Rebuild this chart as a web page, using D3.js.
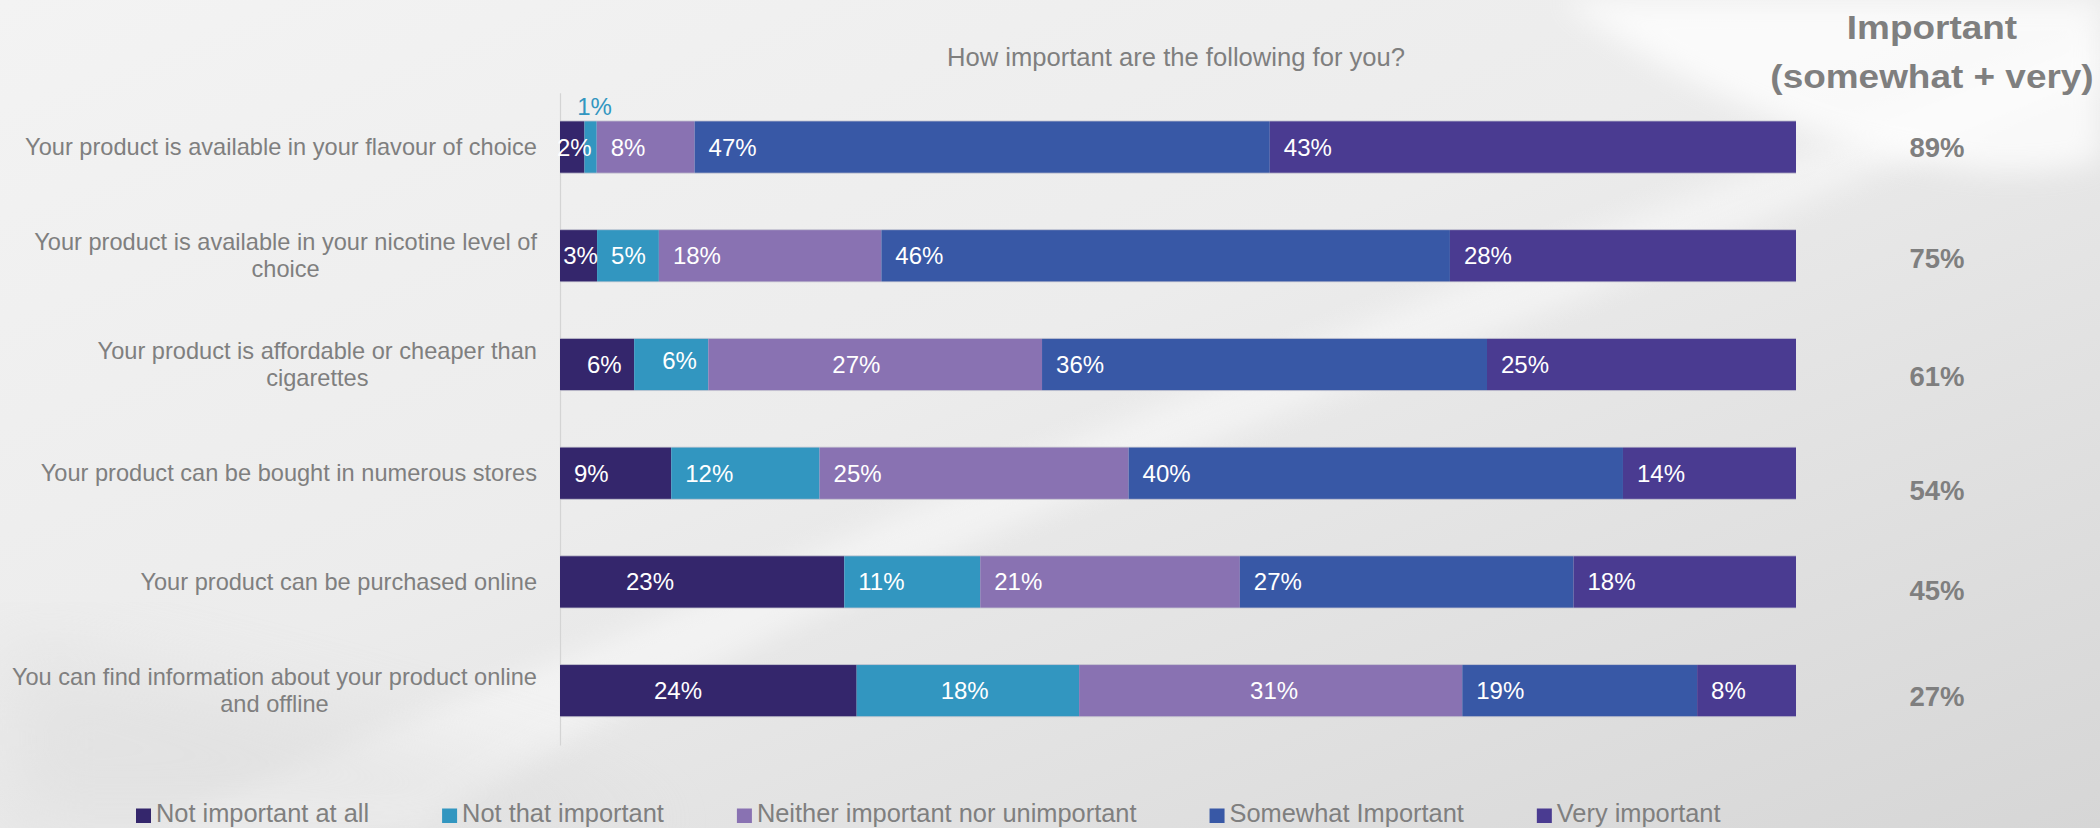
<!DOCTYPE html>
<html>
<head>
<meta charset="utf-8">
<script src="https://cdn.jsdelivr.net/npm/d3@7"></script>
<style>
  html, body { margin: 0; padding: 0; background: #ececec; overflow: hidden; }
  text { font-family: "Liberation Sans", Arial, Helvetica, sans-serif; }
</style>
</head>
<body>
<svg id="chart" width="2100" height="828"></svg>
<script>
// ---- data ----
const categories = [
  "Your product is available in your flavour of choice",
  "Your product is available in your nicotine level of choice",
  "Your product is affordable or cheaper than cigarettes",
  "Your product can be bought in numerous stores",
  "Your product can be purchased online",
  "You can find information about your product online and offline"
];
const seriesNames = [
  "Not important at all",
  "Not that important",
  "Neither important nor unimportant",
  "Somewhat Important",
  "Very important"
];
const notImportantAtAll = [2, 3, 6, 9, 23, 24];
const notThatImportant  = [1, 5, 6, 12, 11, 18];
const neitherImportant  = [8, 18, 27, 25, 21, 31];
const somewhatImportant = [47, 46, 36, 40, 27, 19];
const veryImportant     = [43, 28, 25, 14, 18, 8];
const importantTotal    = [89, 75, 61, 54, 45, 27];
const chartTitle = "How important are the following for you?";
const summaryTitle = ["Important", "(somewhat + very)"];

// ---- styling / layout ----
const seriesColors = ["#34266c", "#3296c0", "#8972b2", "#3858a6", "#4a3b91"];
const textGrey = "#7f7f7f";
const W = 2100, H = 828;
const plotLeft = 560, plotRight = 1796;

const seriesValues = [notImportantAtAll, notThatImportant, neitherImportant, somewhatImportant, veryImportant];
const rows = categories.map((c, i) => {
  const o = { category: c };
  seriesNames.forEach((s, k) => { o[s] = seriesValues[k][i]; });
  return o;
});

const svg = d3.select("#chart");
const defs = svg.append("defs");

// background: soft grey slide with light swooshes
const bg = defs.append("linearGradient").attr("id", "bg")
  .attr("x1", 0).attr("y1", 0).attr("x2", 1).attr("y2", 1);
bg.append("stop").attr("offset", "0%").attr("stop-color", "#f3f3f3");
bg.append("stop").attr("offset", "45%").attr("stop-color", "#ececec");
bg.append("stop").attr("offset", "100%").attr("stop-color", "#d6d6d6");
defs.append("filter").attr("id", "soft").attr("x", "-20%").attr("y", "-20%").attr("width", "140%").attr("height", "140%")
  .append("feGaussianBlur").attr("stdDeviation", 14);
defs.append("filter").attr("id", "softer").attr("x", "-20%").attr("y", "-20%").attr("width", "140%").attr("height", "140%")
  .append("feGaussianBlur").attr("stdDeviation", 40);

svg.append("rect").attr("width", W).attr("height", H).attr("fill", "url(#bg)");
const deco = svg.append("g");
// light sweep rising from the lower left towards the upper right
deco.append("path")
  .attr("d", "M 420 828 C 700 650 1100 480 1509 327 C 1700 250 1900 160 2100 80 L 2100 40 C 1800 150 1400 300 884 520 C 600 650 300 760 150 828 Z")
  .attr("fill", "#ffffff").attr("opacity", 0.45).attr("filter", "url(#soft)");
// bright arc in the top right corner
deco.append("path")
  .attr("d", "M 1560 0 C 1660 70 1800 150 1980 170 C 2060 175 2100 160 2100 160 L 2100 0 Z")
  .attr("fill", "#ffffff").attr("opacity", 0.75).attr("filter", "url(#soft)");
deco.append("path")
  .attr("d", "M 0 640 C 300 700 500 760 700 828 L 0 828 Z")
  .attr("fill", "#d9d9d9").attr("opacity", 0.45).attr("filter", "url(#softer)");

// ---- scales ----
const y = d3.scaleBand().domain(categories).range([92.7, 745]).paddingInner(0.52).paddingOuter(0.26);
const x = d3.scaleLinear().domain([0, 1]).range([plotLeft, plotRight]);
const color = d3.scaleOrdinal().domain(seriesNames).range(seriesColors);

const stacked = d3.stack().keys(seriesNames).offset(d3.stackOffsetExpand)(rows);

// vertical category axis line
svg.append("g")
  .attr("transform", `translate(${plotLeft},0)`)
  .call(d3.axisLeft(y).tickSize(0).tickSizeOuter(0).tickFormat(""))
  .call(g => g.select(".domain").attr("stroke", "#d4d4d4").attr("stroke-width", 1.2));

// bars
const layers = svg.append("g").selectAll("g").data(stacked).join("g")
  .attr("fill", d => color(d.key));
layers.selectAll("rect").data(d => d).join("rect")
  .attr("x", d => x(d[0]))
  .attr("width", d => x(d[1]) - x(d[0]))
  .attr("y", d => y(d.data.category))
  .attr("height", y.bandwidth());

// thin light edges along top and bottom of each bar
svg.append("g").selectAll("line").data(categories.flatMap(c => [y(c), y(c) + y.bandwidth()])).join("line")
  .attr("x1", x(0)).attr("x2", x(1))
  .attr("y1", d => d).attr("y2", d => d)
  .attr("stroke", "#c9c9d3").attr("stroke-width", 1).attr("opacity", 0.8);

// value labels inside segments
const labelDx = { "2-0": 27, "2-1": 28, "2-2": 124, "4-0": 66, "5-0": 94, "5-1": 84, "5-2": 171 };
const labelDy = { "2-1": -4 };
const labelCentred = new Set(["0-0", "1-0"]);
const labelAbove = new Set(["0-1"]);
const labelData = [];
stacked.forEach((layer, k) => {
  layer.forEach((d, i) => {
    labelData.push({ key: `${i}-${k}`, k, i, d, value: seriesValues[k][i], cat: categories[i] });
  });
});
svg.append("g").selectAll("text").data(labelData).join("text")
  .attr("font-size", 24)
  .attr("fill", l => labelAbove.has(l.key) ? seriesColors[l.k] : "#ffffff")
  .attr("text-anchor", l => (labelCentred.has(l.key) || labelAbove.has(l.key)) ? "middle" : "start")
  .attr("x", l => {
    const x0 = x(l.d[0]), x1 = x(l.d[1]);
    if (labelCentred.has(l.key) || labelAbove.has(l.key)) return (x0 + x1) / 2 + (labelAbove.has(l.key) ? 4 : 2);
    return x0 + (labelDx[l.key] !== undefined ? labelDx[l.key] : 14);
  })
  .attr("y", l => {
    if (labelAbove.has(l.key)) return y(l.cat) - 5.5;
    return y(l.cat) + y.bandwidth() / 2 + 8.5 + (labelDy[l.key] || 0);
  })
  .text(l => l.value + "%");

// category labels (wrapped, block right-aligned, lines centred)
const catFont = 23.6, catRight = 537, wrapWidth = 532, lineH = 27;
const measurer = svg.append("text").attr("font-size", catFont).attr("visibility", "hidden");
const measure = s => { measurer.text(s); return measurer.node().getComputedTextLength(); };
categories.forEach(c => {
  const words = c.split(" ");
  const lines = [];
  let cur = "";
  words.forEach(w => {
    const t = cur ? cur + " " + w : w;
    if (cur && measure(t) > wrapWidth) { lines.push(cur); cur = w; } else cur = t;
  });
  lines.push(cur);
  const maxW = d3.max(lines, measure);
  const cx = catRight - maxW / 2;
  const cy = y(c) + y.bandwidth() / 2;
  const t = svg.append("text").attr("font-size", catFont).attr("fill", textGrey).attr("text-anchor", "middle");
  lines.forEach((ln, j) => {
    t.append("tspan").attr("x", cx)
      .attr("y", cy + 8 + (j - (lines.length - 1) / 2) * lineH)
      .text(ln);
  });
});
measurer.remove();

// title
svg.append("text")
  .attr("x", (plotLeft + plotRight) / 2 - 2).attr("y", 66)
  .attr("text-anchor", "middle").attr("font-size", 25.6).attr("fill", textGrey)
  .text(chartTitle);

// summary column
const sumX = 1937;
const head = svg.append("g");
summaryTitle.forEach((s, j) => {
  head.append("g").attr("transform", `translate(${sumX - 5},${39 + j * 49}) scale(1.12,1)`)
    .append("text").attr("text-anchor", "middle").attr("font-size", 33).attr("font-weight", "bold")
    .attr("fill", textGrey).text(s);
});
const sumNudge = [0, 2, 12, 17, 8, 5];
svg.append("g").selectAll("text").data(importantTotal).join("text")
  .attr("x", sumX).attr("y", (d, i) => y(categories[i]) + y.bandwidth() / 2 + 10 + sumNudge[i])
  .attr("text-anchor", "middle").attr("font-size", 27.5).attr("font-weight", "bold")
  .attr("fill", textGrey).text(d => d + "%");

// legend
const legend = svg.append("g");
let lx = 136;
seriesNames.forEach((s, k) => {
  legend.append("rect").attr("x", lx).attr("y", 808.5).attr("width", 15).attr("height", 14.5).attr("fill", seriesColors[k]);
  const t = legend.append("text").attr("x", lx + 20).attr("y", 822).attr("font-size", 25.4).attr("fill", textGrey).text(s);
  lx += 20 + t.node().getComputedTextLength() + 73;
});
</script>
</body>
</html>
